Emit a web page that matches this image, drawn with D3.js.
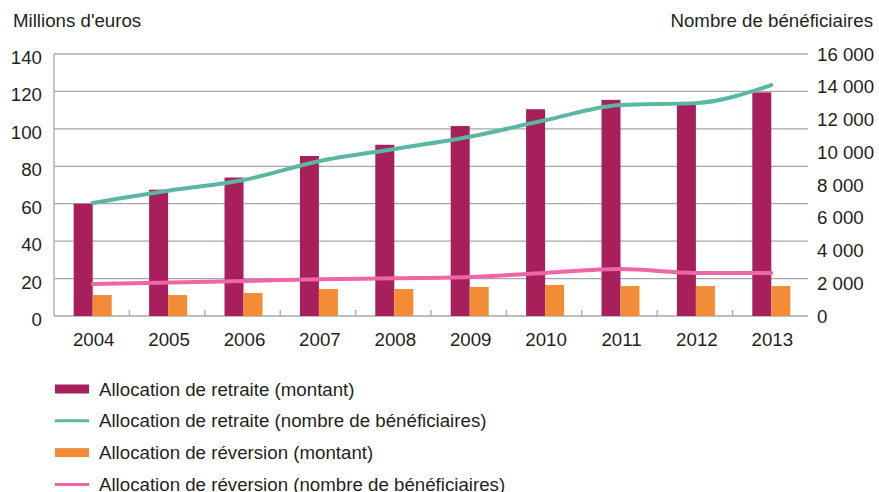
<!DOCTYPE html>
<html>
<head>
<meta charset="utf-8">
<script src="https://cdn.jsdelivr.net/npm/d3@7"></script>
<style>
  body { margin: 0; background: #fff; }
  svg text { font-family: "Liberation Sans", Arial, Helvetica, sans-serif; fill: #231f20; }
</style>
</head>
<body>
<div id="chart"></div>
<script>
var years = ['2004', '2005', '2006', '2007', '2008', '2009', '2010', '2011', '2012', '2013'];
var retraiteMontant = [60, 67.5, 74, 85.5, 91.5, 101.5, 110.5, 115.5, 113, 119.5];
var reversionMontant = [11.2, 11.2, 12.3, 14.4, 14.4, 15.5, 16.6, 16, 16, 16];
var retraiteBenef = [6900, 7650, 8300, 9450, 10200, 10950, 11950, 12880, 13000, 14100];
var reversionBenef = [1950, 2040, 2140, 2240, 2300, 2380, 2630, 2870, 2630, 2630];
var leftTicks = [0, 20, 40, 60, 80, 100, 120, 140];
var rightTicks = [0, 2000, 4000, 6000, 8000, 10000, 12000, 14000, 16000];
var legendLabels = [
  'Allocation de retraite (montant)',
  'Allocation de retraite (nombre de bénéficiaires)',
  'Allocation de réversion (montant)',
  'Allocation de réversion (nombre de bénéficiaires)'
];

var W = 879, H = 492;
var plotLeft = 54, plotRight = 808, plotTop = 54, plotBottom = 316;
var fontSize = '18.7px';
var maroon = '#a8205b', orange = '#f28c36', teal = '#5ab7a3', pink = '#ef66a6';

var svg = d3.select('#chart').append('svg').attr('width', W).attr('height', H);

var x = d3.scaleBand().domain(years).range([plotLeft, plotRight]);
var sub = d3.scaleBand().domain(['ret', 'rev']).range([0, 38]);
var y = d3.scaleLinear().domain([0, 140]).range([plotBottom, plotTop]);
var y2 = d3.scaleLinear().domain([0, 16000]).range([plotBottom, plotTop]);

function cx(d) { return x(d) + x.bandwidth() / 2 + 1; }

// grid lines
svg.append('g').selectAll('line').data(leftTicks).join('line')
  .attr('x1', plotLeft).attr('x2', plotRight)
  .attr('y1', function(d){ return y(d); }).attr('y2', function(d){ return y(d); })
  .style('stroke', '#a7a7a7').style('stroke-width', 1.3);

// left axis line
svg.append('line').attr('x1', plotLeft).attr('x2', plotLeft).attr('y1', plotTop).attr('y2', plotBottom)
  .style('stroke', '#a7a7a7').style('stroke-width', 1.3);

// x tick marks between years
svg.append('g').selectAll('line').data(years.slice(1)).join('line')
  .attr('x1', function(d){ return x(d); }).attr('x2', function(d){ return x(d); })
  .attr('y1', plotBottom - 6).attr('y2', plotBottom)
  .style('stroke', '#a7a7a7').style('stroke-width', 1.3);

// bars
var groups = svg.append('g').selectAll('g').data(years).join('g')
  .attr('transform', function(d){ return 'translate(' + (cx(d) - 19) + ',0)'; });
groups.append('rect')
  .attr('x', sub('ret')).attr('width', sub.bandwidth())
  .attr('y', function(d, i){ return y(retraiteMontant[i]); })
  .attr('height', function(d, i){ return plotBottom - y(retraiteMontant[i]); })
  .style('fill', maroon);
groups.append('rect')
  .attr('x', sub('rev')).attr('width', sub.bandwidth())
  .attr('y', function(d, i){ return y(reversionMontant[i]); })
  .attr('height', function(d, i){ return plotBottom - y(reversionMontant[i]); })
  .style('fill', orange);

// lines
var line = d3.line()
  .x(function(d){ return cx(d[0]); })
  .y(function(d){ return y2(d[1]); })
  .curve(d3.curveMonotoneX);

svg.append('path').datum(d3.zip(years, retraiteBenef)).attr('d', line)
  .style('fill', 'none').style('stroke', teal).style('stroke-width', 4).style('stroke-linecap', 'round');
svg.append('path').datum(d3.zip(years, reversionBenef)).attr('d', line)
  .style('fill', 'none').style('stroke', pink).style('stroke-width', 4).style('stroke-linecap', 'round');

// left tick labels
svg.append('g').selectAll('text').data(leftTicks).join('text')
  .attr('x', 42).attr('y', function(d){ return y(d) + 10; })
  .attr('text-anchor', 'end').style('font-size', fontSize)
  .text(function(d){ return d; });

// right tick labels
var fmt = function(d){ return d3.format(',')(d).replace(/,/g, ' '); };
svg.append('g').selectAll('text').data(rightTicks).join('text')
  .attr('x', 817).attr('y', function(d){ return y2(d) + 6.5; })
  .style('font-size', fontSize)
  .text(fmt);

// year labels
svg.append('g').selectAll('text').data(years).join('text')
  .attr('x', function(d){ return cx(d) + 1; }).attr('y', 345.5)
  .attr('text-anchor', 'middle').style('font-size', fontSize)
  .text(function(d){ return d; });

// axis titles
svg.append('text').attr('x', 13).attr('y', 27).style('font-size', fontSize).text("Millions d'euros");
svg.append('text').attr('x', 873).attr('y', 27).attr('text-anchor', 'end').style('font-size', fontSize).text('Nombre de bénéficiaires');

// legend
var legendColors = [maroon, teal, orange, pink];
var legendKinds = ['rect', 'line', 'rect', 'line'];
var lg = svg.append('g').selectAll('g').data(legendLabels).join('g')
  .attr('transform', function(d, i){ return 'translate(0,' + (389 + i * 31.8) + ')'; });
lg.each(function(d, i){
  var g = d3.select(this);
  if (legendKinds[i] === 'rect') {
    g.append('rect').attr('x', 55).attr('y', -4.5).attr('width', 34).attr('height', 9).style('fill', legendColors[i]);
  } else {
    g.append('line').attr('x1', 55).attr('x2', 89).attr('y1', 0).attr('y2', 0)
      .style('stroke', legendColors[i]).style('stroke-width', 3);
  }
  g.append('text').attr('x', 99).attr('y', 6.5).style('font-size', fontSize).text(d);
});
</script>
</body>
</html>
